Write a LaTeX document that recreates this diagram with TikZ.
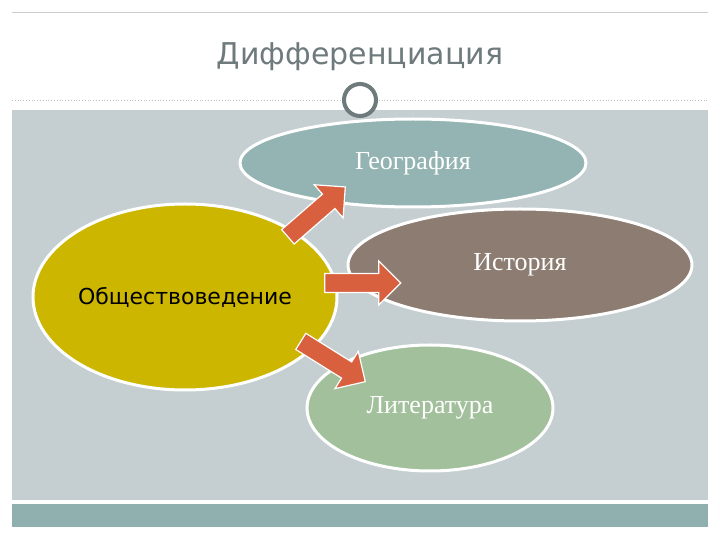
\documentclass[tikz,border=0pt]{standalone}
\usepackage{fontspec}
\setmainfont{Liberation Serif}
\newfontfamily\sansfont{DejaVu Sans}
\usetikzlibrary{shapes.geometric,shapes.arrows}
\definecolor{panelgray}{HTML}{C5CFD2}
\definecolor{barteal}{HTML}{8FB0AE}
\definecolor{titlegray}{HTML}{6E7A7C}
\definecolor{yellowoval}{HTML}{CDB600}
\definecolor{tealoval}{HTML}{93B4B2}
\definecolor{brownoval}{HTML}{8C7C71}
\definecolor{greenoval}{HTML}{A2C09B}
\definecolor{arrowred}{HTML}{D8603E}
\begin{document}
\begin{tikzpicture}[
        x=0.5pt, y=-0.5pt,
        oval/.style={ellipse, draw=white, line width=1.5pt, inner sep=0pt},
        subject/.style={oval, text=white, font=\fontsize{13}{15}\selectfont},
        blockarrow/.style={single arrow, draw=white, line width=0.6pt, fill=arrowred, minimum height=38pt, minimum width=22pt, single arrow head extend=3pt, inner sep=2pt}
    ]
        \useasboundingbox (0,0) rectangle (720,540);
        \fill[white] (0,0) rectangle (720,540);
        % Title area and panels
        \draw[gray!40] (12,12) -- (708,12);
        \draw[gray!50, densely dotted] (12,100) -- (708,100);
        \fill[panelgray] (12,110) rectangle (708,500);
        \fill[barteal] (12,504) rectangle (708,527);
        \node[font=\sansfont\fontsize{15}{18}\selectfont, text=titlegray] (title) at (360,57) {Дифференциация};
        \node[circle, draw=titlegray, line width=2pt, fill=white, minimum size=16pt] (knob) at (360,100) {};

        % Ovals
        \node[subject, fill=tealoval, minimum width=173pt, minimum height=44pt] (geo) at (413,163) {География};
        \node[subject, fill=brownoval, minimum width=172pt, minimum height=56pt] (hist) at (520,265) {История};
        \node[subject, fill=greenoval, minimum width=123pt, minimum height=63pt] (lit) at (430,408) {Литература};
        \node[oval, fill=yellowoval, minimum width=152pt, minimum height=93pt, font=\sansfont\fontsize{11}{13}\selectfont] (soc) at (185,297) {Обществоведение};

        % Arrows
        \node[blockarrow, rotate=41] (toGeo) at (313,215) {};
        \node[blockarrow] (toHist) at (358,283) {};
        \node[blockarrow, rotate=-32] (toLit) at (329,359) {};
    \end{tikzpicture}
\end{document}
